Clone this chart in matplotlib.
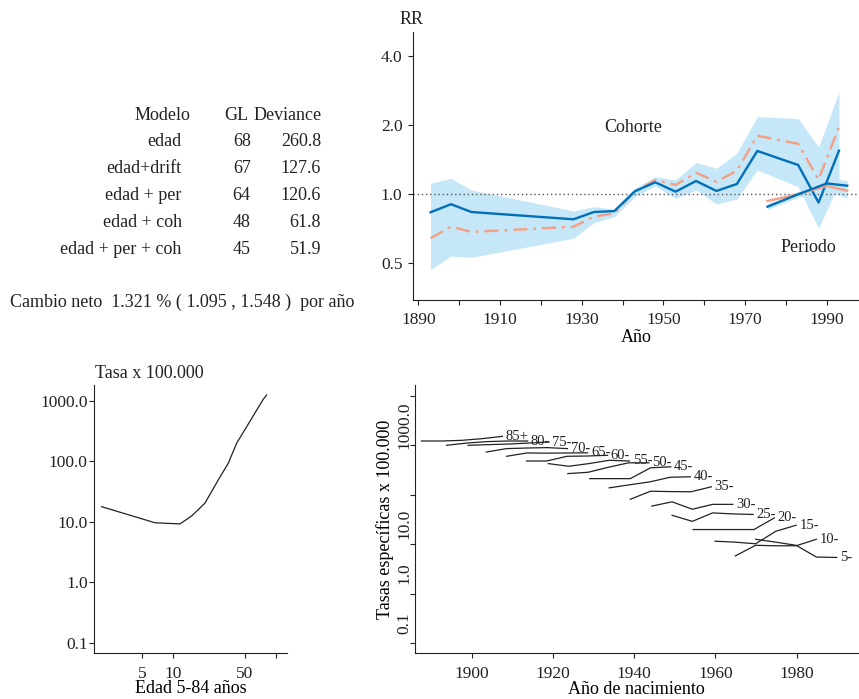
import numpy as np
import matplotlib.pyplot as plt
from matplotlib.transforms import ScaledTranslation

plt.rcParams['font.family'] = ['Liberation Serif', 'DejaVu Serif']
plt.rcParams['font.size'] = 13
plt.rcParams['text.color'] = '#222222'
plt.rcParams['axes.edgecolor'] = '#222222'
plt.rcParams['xtick.color'] = '#222222'
plt.rcParams['ytick.color'] = '#222222'

# tabla de modelos
modelos = ['edad', 'edad+drift', 'edad + per', 'edad + coh', 'edad + per + coh']
gl = [68, 67, 64, 48, 45]
deviance = [260.8, 127.6, 120.6, 61.8, 51.9]
cambio_neto = 1.321
cambio_ic = (1.095, 1.548)

# efecto cohorte (RR)
coh_anio = [1893, 1898, 1903, 1928, 1933, 1938, 1943, 1948, 1953, 1958, 1963, 1968, 1973, 1983, 1988, 1993]
coh_rr = [0.835, 0.905, 0.837, 0.778, 0.837, 0.845, 1.03, 1.128, 1.027, 1.143, 1.034, 1.109, 1.545, 1.342, 0.92, 1.55]
coh_rr_drift = [0.643, 0.722, 0.685, 0.722, 0.799, 0.826, 1.027, 1.154, 1.098, 1.242, 1.135, 1.267, 1.80, 1.66, 1.16, 1.97]
coh_inf = [0.47, 0.538, 0.531, 0.643, 0.752, 0.799, 0.976, 1.087, 0.961, 1.044, 0.907, 0.954, 1.277, 1.079, 0.711, 1.12]
coh_sup = [1.117, 1.174, 1.044, 0.846, 0.883, 0.86, 1.062, 1.193, 1.154, 1.374, 1.298, 1.51, 2.18, 2.14, 1.61, 2.80]

# efecto periodo (RR)
per_anio = [1975.5, 1983, 1990, 1995]
per_rr = [0.883, 1.0, 1.115, 1.09]
per_rr_drift = [0.935, 1.0, 1.087, 1.037]
per_inf = [0.86, 0.97, 1.04, 0.96]
per_sup = [0.91, 1.03, 1.17, 1.15]

# efecto edad (tasa x 100.000)
edad = [2.03, 6.7, 11.7, 15.2, 20.4, 27.5, 34.4, 41.5, 75.3, 81.2]
tasa_edad = [17.9, 9.7, 9.3, 12.6, 20.4, 49.4, 93.3, 200, 1067, 1256]

# tasas especificas por grupo de edad segun cohorte de nacimiento
grupos = ['85+', '80-', '75-', '70-', '65-', '60-', '55-', '50-', '45-',
          '40-', '35-', '30-', '25-', '20-', '15-', '10-', '5-']
cohorte_inicio = [1887.5, 1893.7, 1899.0, 1903.5, 1908.5, 1913.4, 1918.8, 1923.6, 1929.0,
                  1933.8, 1939.0, 1944.3, 1949.3, 1954.5, 1959.9, 1964.9, 1969.9]
tasas = [
    [1222, 1222, 1262, 1365, 1520],
    [1000, 1112, 1189, 1222, 1222],
    [1000, 1033, 1062, 1112, 1166],
    [732, 858, 882, 899, 858],
    [600, 700, 695, 700, 705],
    [482, 482, 600, 608, 628],
    [427, 377, 427, 498, 482],
    [268, 285, 360, 443, 443],
    [212, 212, 212, 351, 368],
    [138, 159, 182, 226, 231],
    [81, 118, 116, 115, 145],
    [59, 72, 51, 64, 64],
    [38.5, 29, 43, 41, 40],
    [19.8, 19.8, 19.8, 19.8, 34],
    [11.5, 11, 10.2, 18.3, 24.2],
    [5.8, 9.5, 9.3, 9.3, 12.6],
    [12.6, 11, 9.5, 5.5, 5.4],
]

azul = '#0070ba'
salmon = '#f59f82'
banda = '#c5e7f8'

W, H = 859, 699
fig = plt.figure(figsize=(W / 100, H / 100), dpi=100)


def fx(px):
    return px / W


def fy(py):
    return 1 - py / H


def estilo(ax):
    ax.spines['top'].set_visible(False)
    ax.spines['right'].set_visible(False)
    ax.tick_params(which='both', length=3.6, width=0.8, labelsize=12.5)
    ax.minorticks_off()


# --- tabla ---
fig.text(fx(190.7), fy(115), 'Modelo', ha='right', va='center')
fig.text(fx(248), fy(115), 'GL', ha='right', va='center')
fig.text(fx(322), fy(115), 'Deviance', ha='right', va='center')
for i, (m, g, d) in enumerate(zip(modelos, gl, deviance)):
    y = 142 + 26.8 * i
    fig.text(fx(181.7), fy(y), m, ha='right', va='center')
    fig.text(fx(250.7), fy(y), str(g), ha='right', va='center')
    fig.text(fx(321), fy(y), f'{d:.1f}', ha='right', va='center')
fig.text(fx(10), fy(302),
         f'Cambio neto  {cambio_neto:.3f} % ( {cambio_ic[0]:.3f} , {cambio_ic[1]:.3f} )  por año',
         ha='left', va='center')

# --- RR cohorte / periodo ---
ax1 = fig.add_axes([fx(413), fy(300), fx(859 - 413), (300 - 32) / H])
ax1.set_yscale('log')
ax1.fill_between(coh_anio, coh_inf, coh_sup, color=banda, lw=0)
ax1.fill_between(per_anio, per_inf, per_sup, color=banda, lw=0)
ax1.axhline(1, color='#555555', ls=(0, (1, 2)), lw=1)
ax1.plot(coh_anio, coh_rr_drift, color=salmon, lw=1.7, ls=(0, (6, 2.5, 1.2, 2.5)))
ax1.plot(coh_anio, coh_rr, color=azul, lw=1.7)
ax1.plot(per_anio, per_rr_drift, color=salmon, lw=1.7)
ax1.plot(per_anio, per_rr, color=azul, lw=1.7)
ax1.set_xlim(1888.7, 1997.9)
ax1.set_ylim(0.346, 5.1)
estilo(ax1)
ax1.set_yticks([0.5, 1, 2, 4], ['0.5', '1.0', '2.0', '4.0'])
ax1.set_xticks(np.arange(1890, 1991, 10),
               [str(a) if (a - 1890) % 20 == 0 else '' for a in range(1890, 1991, 10)])
ax1.tick_params(axis='y', pad=4)
ax1.tick_params(axis='x', pad=5)
ax1.set_xlabel('Año', fontsize=13, labelpad=1)
ax1.text(1942.6, 1.95, 'Cohorte', ha='center', va='center')
ax1.text(1985.5, 0.585, 'Periodo', ha='center', va='center')
fig.text(fx(412), fy(20), 'RR', ha='center', va='center')

# --- efecto edad ---
ax2 = fig.add_axes([fx(94), fy(652.5), fx(287 - 94), (652.5 - 385) / H])
ax2.set_xscale('log')
ax2.set_yscale('log')
ax2.plot(edad, tasa_edad, color='#222222', lw=0.9)
ax2.set_xlim(1.71, 128)
ax2.set_ylim(10 ** -1.157, 10 ** 3.264)
estilo(ax2)
ax2.set_yticks([0.1, 1, 10, 100, 1000], ['0.1', '1.0', '10.0', '100.0', '1000.0'])
ax2.set_xticks([5, 10, 50, 100], ['5', '10', '50', ''])
ax2.tick_params(axis='y', pad=1)
ax2.tick_params(axis='x', pad=6)
ax2.set_xlabel('Edad 5-84 años', fontsize=13, labelpad=-1)
fig.text(fx(95), fy(373), 'Tasa x 100.000', ha='left', va='center')

# --- tasas por cohorte de nacimiento ---
ax3 = fig.add_axes([fx(414.5), fy(653), fx(859 - 414.5), (653 - 385) / H])
ax3.set_yscale('log')
for g, c0, t in zip(grupos, cohorte_inicio, tasas):
    x = c0 + 5 * np.arange(len(t))
    ax3.plot(x, t, color='#222222', lw=0.9)
    ax3.text(x[-1] + 0.8, t[-1], g, ha='left', va='center', fontsize=10.5)
ax3.set_xlim(1885.8, 1995.4)
ax3.set_ylim(10 ** -1.2, 10 ** 4.22)
estilo(ax3)
ax3.set_xticks([1900, 1920, 1940, 1960, 1980])
ax3.set_yticks([0.1, 1, 10, 100, 1000, 10000], ['0.1', '1.0', '10.0', '', '1000.0', ''])
ax3.tick_params(axis='y', labelrotation=90, pad=-2)
ax3.tick_params(axis='x', pad=6)
for lbl in ax3.get_yticklabels():
    lbl.set_va('center')
    lbl.set_transform(lbl.get_transform() + ScaledTranslation(0, 0.2, fig.dpi_scale_trans))
ax3.set_xlabel('Año de nacimiento', fontsize=13, labelpad=-1)
ax3.set_ylabel('Tasas específicas x 100.000', fontsize=13, labelpad=2)

fig.savefig('out.png', dpi=100)
